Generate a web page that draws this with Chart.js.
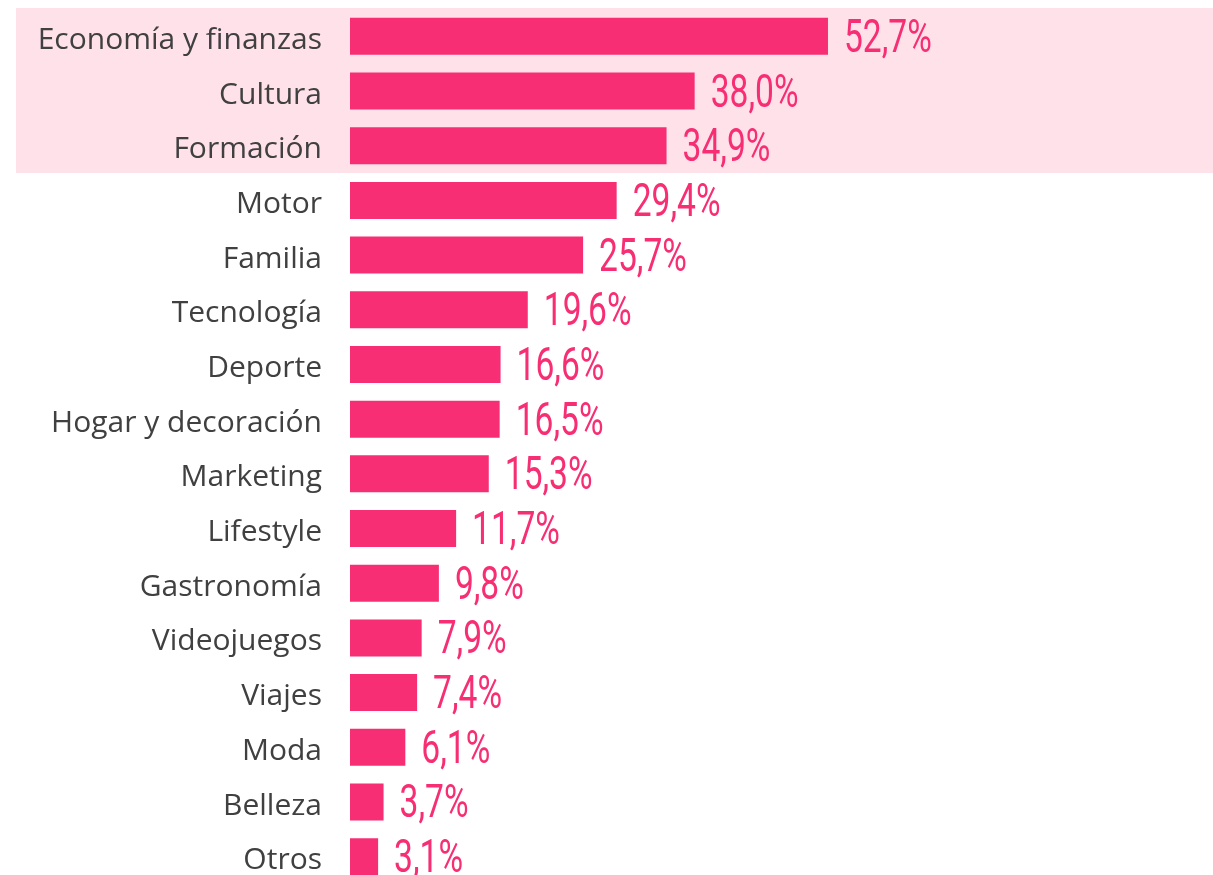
<!DOCTYPE html>
<html>
<head>
    <meta charset="utf-8">
    <title>Temáticas</title>
    <script src="https://cdn.jsdelivr.net/npm/chart.js"></script>
    <style>
        html, body { margin: 0; padding: 0; background: #fff; overflow: hidden; }
        #wrap { width: 1213px; height: 884px; position: relative; }
    </style>
</head>
<body>
<div id="wrap"><canvas id="chart"></canvas></div>
<script>
    var categories = ['Economía y finanzas', 'Cultura', 'Formación', 'Motor', 'Familia', 'Tecnología',
        'Deporte', 'Hogar y decoración', 'Marketing', 'Lifestyle', 'Gastronomía', 'Videojuegos',
        'Viajes', 'Moda', 'Belleza', 'Otros'];
    var values = [52.7, 38.0, 34.9, 29.4, 25.7, 19.6, 16.6, 16.5, 15.3, 11.7, 9.8, 7.9, 7.4, 6.1, 3.7, 3.1];
    var highlighted = 3; // first rows sitting on the pink band

    var pink = '#F72E73';

    // pink band behind the top rows
    var bandPlugin = {
        id: 'band',
        beforeDraw: function(chart) {
            var y = chart.scales.y;
            var step = y.getPixelForValue(1) - y.getPixelForValue(0);
            var top = y.getPixelForValue(0) - step / 2 - 1;
            var bottom = y.getPixelForValue(highlighted - 1) + step / 2;
            var ctx = chart.ctx;
            ctx.save();
            ctx.fillStyle = '#FFE1EA';
            ctx.fillRect(16, top, chart.width - 16, bottom - top);
            ctx.restore();
        }
    };

    // percentage labels at the end of each bar
    var valuePlugin = {
        id: 'values',
        afterDatasetsDraw: function(chart) {
            var ctx = chart.ctx;
            var meta = chart.getDatasetMeta(0);
            ctx.save();
            ctx.fillStyle = pink;
            ctx.font = '400 46px Roboto';
            ctx.textBaseline = 'middle';
            ctx.textAlign = 'left';
            meta.data.forEach(function(bar, i) {
                var txt = values[i].toFixed(1).replace('.', ',') + '%';
                ctx.save();
                ctx.translate(bar.x + 16, bar.y + 4);
                ctx.scale(0.73, 1);
                ctx.fillText(txt, 0, 0);
                ctx.restore();
            });
            ctx.restore();
        }
    };

    var ctx = document.getElementById('chart').getContext('2d');
    var chart = new Chart(ctx, {
        type: 'bar',
        data: {
            labels: categories,
            datasets: [{
                data: values,
                backgroundColor: pink,
                borderWidth: 0,
                categoryPercentage: 1.0,
                barPercentage: 0.677
            }]
        },
        options: {
            indexAxis: 'y',
            responsive: true,
            maintainAspectRatio: false,
            animation: false,
            layout: { padding: { top: 9, bottom: 0, left: 0, right: 0 } },
            scales: {
                x: {
                    display: false,
                    min: 0,
                    max: 95.15
                },
                y: {
                    border: { display: false },
                    grid: { display: false, drawTicks: false },
                    ticks: {
                        color: '#404040',
                        padding: 28,
                        labelOffset: 4,
                        font: { family: 'Open Sans', size: 30 }
                    },
                    afterFit: function(scale) {
                        scale.width = 350;
                        scale.paddingTop = 0;
                        scale.paddingBottom = 0;
                    }
                }
            },
            plugins: {
                legend: { display: false },
                tooltip: { enabled: false }
            }
        },
        plugins: [bandPlugin, valuePlugin]
    });
</script>
</body>
</html>
